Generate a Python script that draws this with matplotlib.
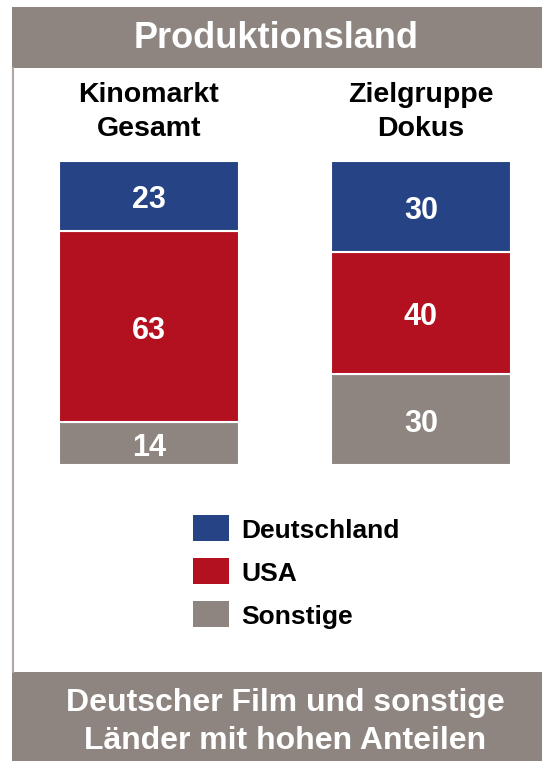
import matplotlib
matplotlib.use("Agg")
import matplotlib.pyplot as plt
from matplotlib.patches import Rectangle
import numpy as np

plt.rcParams['font.family'] = ['Liberation Sans', 'DejaVu Sans']
plt.rcParams['font.weight'] = 'bold'

# data
groups = ['Kinomarkt\nGesamt', 'Zielgruppe\nDokus']
series = ['Deutschland', 'USA', 'Sonstige']
deutschland = [23, 30]
usa = [63, 40]
sonstige = [14, 30]
title = 'Produktionsland'
footer = 'Deutscher Film und sonstige\nLänder mit hohen Anteilen'

col_de = '#264385'
col_us = '#B31020'
col_so = '#8E8580'

W, H = 542, 761
fig = plt.figure(figsize=(W / 100, H / 100), dpi=100)

# background axes in pixel coordinates
bg = fig.add_axes([0, 0, 1, 1])
bg.set_xlim(0, W)
bg.set_ylim(H, 0)
bg.axis('off')

# header and footer bands, left border line
bg.add_patch(Rectangle((12, 7), W - 12, 61, color=col_so, lw=0))
bg.add_patch(Rectangle((12, 672), W - 12, H - 672, color=col_so, lw=0))
bg.plot([13, 13], [68, 672], color='#B0A8A4', lw=1.5)
bg.text(276, 39, title, color='white', fontsize=26, ha='center', va='center')
bg.text(285, 722, footer, color='white', fontsize=23, ha='center', va='center',
        linespacing=1.32)

# bar axes: bars centred at 149 and 421 px, width 180 px
x0, x1 = 59, 511
y0, y1 = 161, 465
ax = fig.add_axes([x0 / W, 1 - y1 / H, (x1 - x0) / W, (y1 - y0) / H])
ax.axis('off')
x = np.arange(len(groups))
bw = 180 / 272
so = np.array(sonstige)
us = np.array(usa)
de = np.array(deutschland)
ax.bar(x, so, bw, color=col_so, edgecolor='white', lw=1.5)
ax.bar(x, us, bw, bottom=so, color=col_us, edgecolor='white', lw=1.5)
ax.bar(x, de, bw, bottom=so + us, color=col_de, edgecolor='white', lw=1.5)
ax.set_xlim(-bw / 2, 1 + bw / 2)
ax.set_ylim(0, 100)

for i in x:
    for val, mid in [(so[i], so[i] / 2), (us[i], so[i] + us[i] / 2),
                     (de[i], so[i] + us[i] + de[i] / 2)]:
        ax.annotate(str(val), (i, mid), xytext=(0, -3), textcoords='offset points',
                    color='white', fontsize=22, ha='center', va='center')

# group labels above the bars
for i, g in enumerate(groups):
    bg.text(149 + 272 * i, 112, g, fontsize=20.5, ha='center', va='center',
            linespacing=1.4)

# legend drawn by hand
cols = [col_de, col_us, col_so]
for k, (name, c) in enumerate(zip(series, cols)):
    yy = 515 + 43 * k
    bg.add_patch(Rectangle((193, yy), 36, 26, color=c, lw=0))
    bg.text(241, yy + 16, name, fontsize=19, ha='left', va='center')

fig.savefig('out.png', dpi=100)
